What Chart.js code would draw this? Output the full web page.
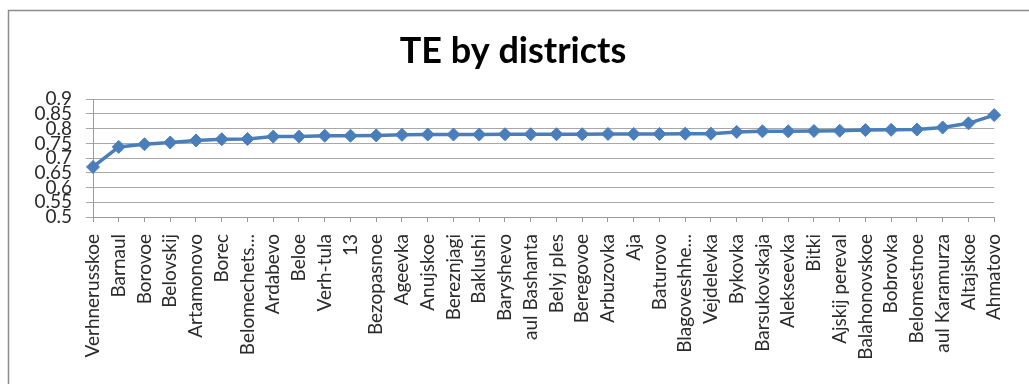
<!DOCTYPE html>
<html>
<head>
<meta charset="utf-8">
<script src="https://cdn.jsdelivr.net/npm/chart.js@4"></script>
<style>
  html, body { margin: 0; padding: 0; background: #fff; }
  #wrap { width: 1029px; height: 384px; position: relative; }
</style>
</head>
<body>
<div id="wrap"><canvas id="chart" width="1029" height="384"></canvas></div>
<script>
const districts = [
  "Verhnerusskoe", "Barnaul", "Borovoe", "Belovskij", "Artamonovo", "Borec",
  "Belomechets...", "Ardabevo", "Beloe", "Verh-tula", "13", "Bezopasnoe",
  "Ageevka", "Anujskoe", "Bereznjagi", "Baklushi", "Baryshevo", "aul Bashanta",
  "Belyj ples", "Beregovoe", "Arbuzovka", "Aja", "Baturovo", "Blagoveshhe...",
  "Vejdelevka", "Bykovka", "Barsukovskaja", "Alekseevka", "Bitki",
  "Ajskij pereval", "Balahonovskoe", "Bobrovka", "Belomestnoe", "aul Karamurza",
  "Altajskoe", "Ahmatovo"
];

const teValues = [
  0.670, 0.738, 0.747, 0.753, 0.760, 0.764,
  0.765, 0.773, 0.773, 0.776, 0.776, 0.777,
  0.779, 0.780, 0.780, 0.780, 0.781, 0.781,
  0.781, 0.781, 0.782, 0.782, 0.782, 0.783,
  0.783, 0.789, 0.791, 0.791, 0.792,
  0.793, 0.795, 0.796, 0.797, 0.804,
  0.818, 0.846
];

const yTickLabels = ["0.5", "0.55", "0.6", "0.65", "0.7", "0.75", "0.8", "0.85", "0.9"];

// grey frame like the spreadsheet chart border (left + top edges only visible)
const framePlugin = {
  id: "frame",
  beforeDraw(chart) {
    const c = chart.ctx;
    c.save();
    c.fillStyle = "#fff";
    c.fillRect(0, 0, chart.width, chart.height);
    c.strokeStyle = "#8c8c8c";
    c.lineWidth = 1.5;
    c.beginPath();
    c.moveTo(8.5, chart.height);
    c.lineTo(8.5, 10.5);
    c.lineTo(chart.width, 10.5);
    c.stroke();
    c.restore();
  },
};

const ctx = document.getElementById("chart").getContext("2d");

new Chart(ctx, {
  type: "line",
  data: {
    labels: districts,
    datasets: [
      {
        label: "TE",
        data: teValues,
        borderColor: "#4a7ebb",
        backgroundColor: "#4a7ebb",
        borderWidth: 3.5,
        pointStyle: "rectRot",
        pointRadius: 6.5,
        pointHoverRadius: 6.5,
        pointBackgroundColor: "#4a7ebb",
        pointBorderColor: "#4a7ebb",
        pointBorderWidth: 1,
        tension: 0,
        fill: false,
      },
    ],
  },
  options: {
    responsive: false,
    animation: false,
    devicePixelRatio: 1,
    layout: { padding: { left: 0, right: 3, top: 0, bottom: 0 } },
    plugins: {
      legend: { display: false },
      tooltip: { enabled: false },
      title: {
        display: true,
        text: "TE by districts",
        color: "#000",
        font: { family: "Lato", size: 36, weight: "bold", lineHeight: 1.2 },
        padding: { top: 30, bottom: 26 },
      },
    },
    scales: {
      x: {
        offset: false,
        grid: {
          display: true,
          drawOnChartArea: false,
          drawTicks: true,
          tickLength: 5,
          color: "#9a9a9a",
        },
        border: { color: "#9a9a9a" },
        ticks: {
          autoSkip: false,
          minRotation: 90,
          maxRotation: 90,
          padding: 12,
          color: "#2b2b2b",
          font: { family: "Lato", size: 19 },
        },
        afterFit(scale) { scale.height = 167; },
      },
      y: {
        min: 0.5,
        max: 0.9,
        grid: {
          color: "#a8a8a8",
          tickLength: 7,
        },
        border: { color: "#9a9a9a" },
        ticks: {
          stepSize: 0.05,
          autoSkip: false,
          padding: 14,
          color: "#2b2b2b",
          font: { family: "Lato", size: 19, lineHeight: 1 },
          callback: (v, i) => yTickLabels[i],
        },
        afterFit(scale) { scale.width = 93; },
      },
    },
  },
  plugins: [framePlugin],
});
</script>
</body>
</html>
